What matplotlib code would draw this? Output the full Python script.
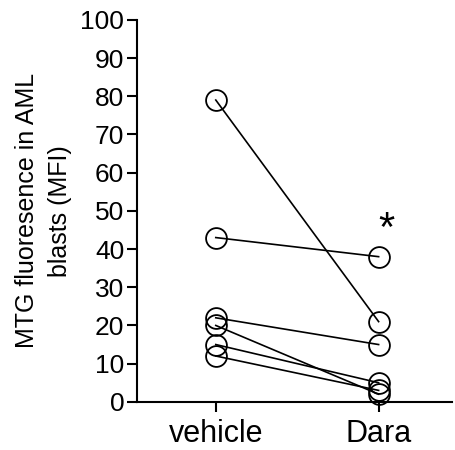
import numpy as np
import matplotlib
matplotlib.use("Agg")
import matplotlib.pyplot as plt

plt.rcParams['font.family'] = ['Liberation Sans', 'DejaVu Sans']

groups = ['vehicle', 'Dara']
vehicle = [79, 43, 22, 20, 15, 12]
dara = [21, 38, 15, 2, 5, 3]

fig = plt.figure(figsize=(4.56, 4.50), dpi=100)
ax = fig.add_axes([0.300, 0.107, 0.691, 0.849])

for v, d in zip(vehicle, dara):
    ax.plot([0, 1], [v, d], color='black', lw=1.2, marker='o', ms=15,
            mfc='none', mec='black', mew=1.3, clip_on=False, zorder=3)

ax.text(1.05, 45, '*', ha='center', va='center', fontsize=30)

ax.set_xlim(-0.485, 1.45)
ax.set_ylim(0, 100)
ax.set_yticks(np.arange(0, 101, 10))
ax.set_xticks([0, 1])
ax.set_xticklabels(groups)
ax.tick_params(axis='y', labelsize=19, length=7, width=1.5, pad=2)
ax.tick_params(axis='x', labelsize=22, length=7, width=1.5, pad=5)
ax.spines['top'].set_visible(False)
ax.spines['right'].set_visible(False)
ax.spines['left'].set_linewidth(1.5)
ax.spines['bottom'].set_linewidth(1.5)
ax.set_ylabel('MTG fluoresence in AML\nblasts (MFI)', fontsize=18, labelpad=6,
              linespacing=1.5)

fig.savefig('out.png', dpi=100)
